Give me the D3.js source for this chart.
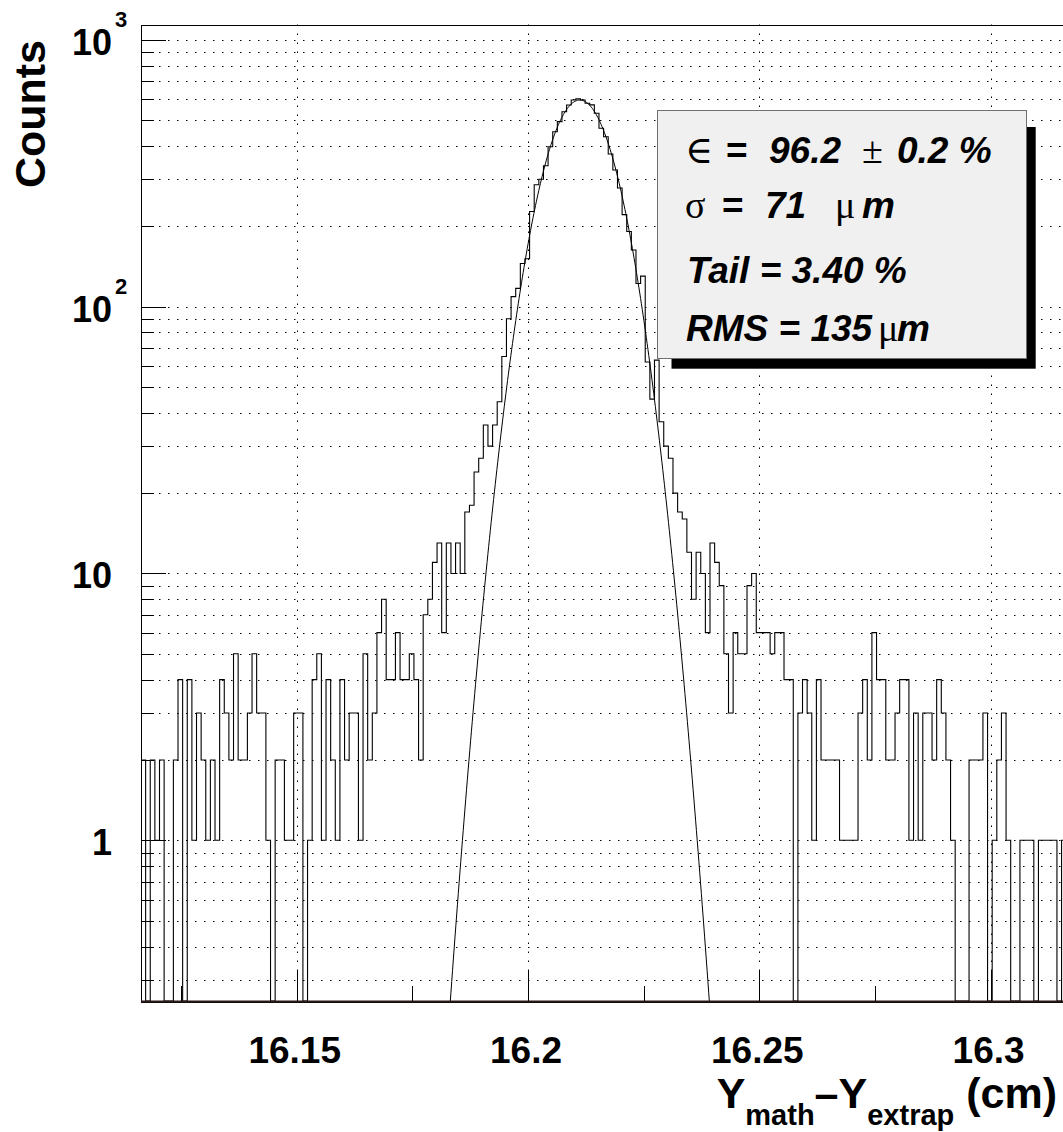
<!DOCTYPE html>
<html>
<head>
<meta charset="utf-8">
<script src="https://cdn.jsdelivr.net/npm/d3@7"></script>
<style>
	body { margin: 0; background: #fff; }
	text { font-family: "Liberation Sans", Arial, Helvetica, sans-serif; font-weight: bold; fill: #000; }
	.sym { font-family: "Liberation Serif", "DejaVu Serif", serif; font-weight: normal; font-style: normal; font-size: 38px; }
	.bi { font-style: italic; font-weight: bold; }
	.up { font-style: normal; font-weight: bold; }
</style>
</head>
<body>
<div id="chart"></div>
<script>
// histogram contents, 200 bins of 10 um
var binCounts = [
	2,0,2,1,2,0,0,2,4,0,        4,1,3,2,1,2,1,4,3,2,
	5,2,2,3,5,3,3,1,0,2,        2,1,1,3,3,0,1,4,5,1,
	4,2,1,4,2,3,3,1,5,2,        3,6,8,4,4,6,4,4,5,4,
	2,7,8,11,13,6,13,10,13,10,  17,18,24,27,36,30,36,44,65,90,
	109,117,145,151,227,286,300,337,397,452,
	493,537,569,594,600,594,578,570,530,466,
	433,373,325,278,221,191,163,122,130,62,
	45,63,37,30,27,20,17,16,12,8,
	12,10,6,13,11,9,5,3,6,5,    5,9,10,6,6,6,5,6,6,4,
	4,0,3,4,3,1,4,2,2,2,        2,1,1,1,1,3,4,2,6,4,
	4,2,2,3,4,4,1,3,1,3,        3,2,4,3,2,1,0,0,0,2,
	2,2,3,0,1,2,3,1,0,0,        1,1,1,0,1,1,1,1,0,1
];
var xMin = 16.11634;
var binWidth = 0.001;
var yMin = 0.25, yMax = 1140;

var xMajorTicks = [16.15, 16.2, 16.25, 16.3];
var xTickLabels = ["16.15", "16.2", "16.25", "16.3"];
var xMinorTicks = [16.125, 16.175, 16.225, 16.275];
var yMajorTicks = [1, 10, 100, 1000];
var yTickBase = ["1", "10", "10", "10"];
var yTickExp = ["", "", "2", "3"];

// gaussian fit
var fitAmp = 594, fitMean = 16.2112, fitSigma = 0.0071;

var W = 1063, H = 1132;
var frame = {left: 141, top: 24.5, right: 141 + 925.2, bottom: 1001};

var svg = d3.select("#chart").append("svg")
	.attr("width", W)
	.attr("height", H)
	.style("display", "block");

var x = d3.scaleLinear()
	.domain([xMin, xMin + binCounts.length * binWidth])
	.range([frame.left, frame.right]);
var y = d3.scaleLog()
	.domain([yMin, yMax])
	.range([frame.bottom, frame.top]);

function px(v) { return Math.round(v) + 0.5; }

svg.append("defs").append("clipPath")
	.attr("id", "plotclip")
	.append("rect")
	.attr("x", frame.left)
	.attr("y", frame.top)
	.attr("width", frame.right - frame.left)
	.attr("height", frame.bottom - frame.top);

// dotted grid
var grid = svg.append("g")
	.attr("class", "grid")
	.attr("stroke", "#000")
	.attr("stroke-width", 1)
	.attr("stroke-dasharray", "1.5,7.5");
var yGrid = y.ticks().filter(function(d) { return d >= yMin && d <= yMax; });
grid.selectAll(".hgrid")
	.data(yGrid)
	.enter()
		.append("line")
		.attr("class", "hgrid")
		.attr("x1", frame.left)
		.attr("x2", frame.right)
		.attr("y1", function(d) { return px(y(d)); })
		.attr("y2", function(d) { return px(y(d)); });
grid.selectAll(".vgrid")
	.data(xMajorTicks)
	.enter()
		.append("line")
		.attr("class", "vgrid")
		.attr("x1", function(d) { return px(x(d)); })
		.attr("x2", function(d) { return px(x(d)); })
		.attr("y1", frame.top)
		.attr("y2", frame.bottom);

var plot = svg.append("g").attr("clip-path", "url(#plotclip)");

// histogram outline
var pts = [];
binCounts.forEach(function(c, i) {
	var lo = xMin + i * binWidth, hi = lo + binWidth;
	var yy = c > 0 ? y(c) : frame.bottom;
	pts.push([x(lo), yy], [x(hi), yy]);
});
plot.append("path")
	.attr("class", "histo")
	.attr("d", d3.line()(pts))
	.attr("fill", "none")
	.attr("stroke", "#000")
	.attr("stroke-width", 1.1);

// fit curve
var fitX = d3.range(fitMean - 4.5 * fitSigma, fitMean + 4.5 * fitSigma, fitSigma / 40);
plot.append("path")
	.attr("class", "fit")
	.attr("d", d3.line()
		.x(function(d) { return x(d); })
		.y(function(d) { return y(fitAmp * Math.exp(-0.5 * Math.pow((d - fitMean) / fitSigma, 2))); })(fitX))
	.attr("fill", "none")
	.attr("stroke", "#000")
	.attr("stroke-width", 1);

// frame
svg.append("rect")
	.attr("x", px(frame.left))
	.attr("y", px(frame.top))
	.attr("width", frame.right - frame.left)
	.attr("height", Math.round(frame.bottom - frame.top))
	.attr("fill", "none")
	.attr("stroke", "#000")
	.attr("stroke-width", 1);
svg.append("line")
	.attr("x1", frame.left).attr("x2", frame.right)
	.attr("y1", frame.bottom + 0.5).attr("y2", frame.bottom + 0.5)
	.attr("stroke", "#2a1a1a").attr("stroke-width", 2);

// y axis ticks
var ticks = svg.append("g").attr("stroke", "#000").attr("stroke-width", 1);
ticks.selectAll(".ytick")
	.data(yGrid)
	.enter()
		.append("line")
		.attr("class", "ytick")
		.attr("x1", frame.left)
		.attr("x2", function(d) { return frame.left + (yMajorTicks.indexOf(d) >= 0 ? 25 : 13); })
		.attr("y1", function(d) { return px(y(d)); })
		.attr("y2", function(d) { return px(y(d)); });
ticks.selectAll(".xtick")
	.data(xMajorTicks.concat(xMinorTicks))
	.enter()
		.append("line")
		.attr("class", "xtick")
		.attr("x1", function(d) { return px(x(d)); })
		.attr("x2", function(d) { return px(x(d)); })
		.attr("y1", frame.bottom)
		.attr("y2", function(d) { return frame.bottom - (xMajorTicks.indexOf(d) >= 0 ? 30 : 15); });

// y tick labels
var ylab = svg.append("g").attr("class", "ylabels");
ylab.selectAll(".ybase")
	.data(yMajorTicks)
	.enter()
		.append("text")
		.attr("class", "ybase")
		.attr("text-anchor", "end")
		.attr("x", 112)
		.attr("y", function(d) { return y(d) + 15; })
		.style("font-size", "36px")
		.text(function(d, i) { return yTickBase[i]; });
ylab.selectAll(".yexp")
	.data(yMajorTicks)
	.enter()
		.append("text")
		.attr("class", "yexp")
		.attr("x", 115)
		.attr("y", function(d) { return y(d) - 13; })
		.style("font-size", "22px")
		.text(function(d, i) { return yTickExp[i]; });

// x tick labels
svg.selectAll(".xlabel")
	.data(xMajorTicks)
	.enter()
		.append("text")
		.attr("class", "xlabel")
		.attr("text-anchor", "middle")
		.attr("x", function(d) { return x(d) - 2; })
		.attr("y", 1063)
		.style("font-size", "37px")
		.text(function(d, i) { return xTickLabels[i]; });

// axis titles
svg.append("text")
	.attr("class", "ytitle")
	.attr("text-anchor", "end")
	.attr("transform", "translate(45,40) rotate(-90)")
	.style("font-size", "43px")
	.text("Counts");

var xt = svg.append("text")
	.attr("class", "xtitle")
	.attr("text-anchor", "end")
	.attr("x", 1057)
	.attr("y", 1108)
	.style("font-size", "43px");
xt.append("tspan").text("Y");
xt.append("tspan").attr("dy", 17).style("font-size", "29px").text("math");
xt.append("tspan").attr("dy", -17).text("\u2013Y");
xt.append("tspan").attr("dy", 17).style("font-size", "29px").text("extrap");
xt.append("tspan").attr("dy", -17).text(" (cm)");

// stats box with shadow
var box = {x1: 657.5, y1: 110.5, x2: 1026.5, y2: 358.5};
var stats = svg.append("g").attr("class", "stats");
stats.append("rect")
	.attr("x", 671.5).attr("y", 127)
	.attr("width", 1035.7 - 671.5).attr("height", 368.7 - 127)
	.attr("fill", "#000");
stats.append("rect")
	.attr("x", box.x1).attr("y", box.y1)
	.attr("width", box.x2 - box.x1).attr("height", box.y2 - box.y1)
	.attr("fill", "#f0f0f0")
	.attr("stroke", "#707070")
	.attr("stroke-width", 1);

var statLines = [
	{y: 163, parts: [["sym", "\u2208", 685], ["up", "=", 726], ["bi", "96.2", 769], ["sym", "\u00b1", 862], ["bi", "0.2 %", 897]]},
	{y: 218, parts: [["sym", "\u03c3", 685], ["up", "=", 722], ["bi", "71", 765], ["sym", "\u03bc", 835], ["bi", "m", 862]]},
	{y: 283, parts: [["bi", "Tail = 3.40 %", 687]]},
	{y: 341, parts: [["bi", "RMS = 135", 686], ["sym", "\u03bc", 878], ["bi", "m", 897]]}
];
statLines.forEach(function(line) {
	var t = stats.append("text")
		.attr("y", line.y)
		.style("font-size", "37px");
	line.parts.forEach(function(p) {
		t.append("tspan")
			.attr("class", p[0])
			.attr("x", p[2])
			.text(p[1]);
	});
});
</script>
</body>
</html>
